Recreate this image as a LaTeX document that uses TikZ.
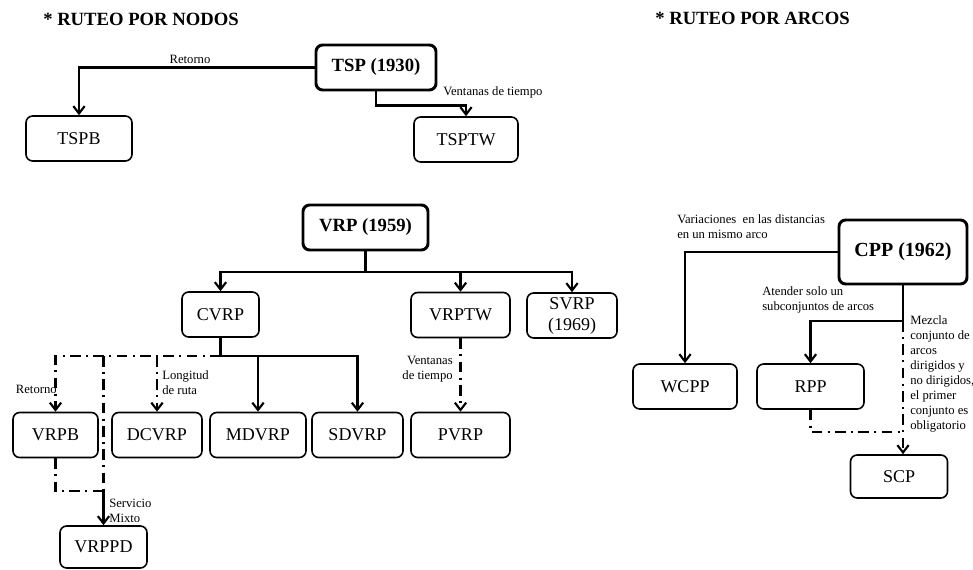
\documentclass[tikz,border=0pt]{standalone}
\usepackage{fontspec}
\setmainfont{Liberation Serif}
\usetikzlibrary{arrows.meta}

\begin{document}
\begin{tikzpicture}[x=0.75pt,y=-0.75pt,
  box/.style={draw, line width=1.2pt, rounded corners=5pt, inner sep=0pt, minimum height=33.75pt, align=center, font=\fontsize{13.5}{15.75}\selectfont},
  mainbox/.style={box, line width=2.2pt, font=\fontsize{14}{16}\selectfont\bfseries},
  arr/.style={line width=1.6pt, -{Straight Barb[length=5.5pt,width=8.5pt,line width=1.6pt]}},
  dd/.style={line width=1.6pt, dash pattern=on 8pt off 4pt on 1.5pt off 4pt},
  lbl/.style={inner sep=0pt, align=left, font=\fontsize{9.5}{11.25}\selectfont},
  title/.style={inner sep=0pt, anchor=west, font=\fontsize{14}{16}\selectfont\bfseries}]
\useasboundingbox (0,0) rectangle (973,570);

\node[title] (tnodos) at (43,19) {* RUTEO POR NODOS};
\node[title] (tarcos) at (655,18) {* RUTEO POR ARCOS};

\node[mainbox, minimum width=90pt] (tsp) at (376,67.5) {TSP (1930)};
\node[box, minimum width=79.5pt] (tspb) at (79,138.5) {TSPB};
\node[box, minimum width=78pt] (tsptw) at (466,139.5) {TSPTW};

\draw[arr] (tsp.west) -| (tspb.north);
\draw[arr] (tsp.south) -- ++(0,14) -| (tsptw.north);
\node[lbl] (lretorno) at (190,59) {Retorno};
\node[lbl, anchor=west] (lventanas) at (443,92) {Ventanas de tiempo};

\node[mainbox, minimum width=93.75pt] (vrp) at (365.5,227.5) {VRP (1959)};
\node[box, minimum width=57.75pt] (cvrp) at (220.5,314.5) {CVRP};
\node[box, minimum width=74.25pt] (vrptw) at (460.5,315) {VRPTW};
\node[box, minimum width=67.5pt] (svrp) at (572,315.5) {SVRP\\(1969)};
\node[box, minimum width=63.75pt] (vrpb) at (55.5,435) {VRPB};
\node[box, minimum width=67.5pt] (dcvrp) at (157,435) {DCVRP};
\node[box, minimum width=72pt] (mdvrp) at (258,435) {MDVRP};
\node[box, minimum width=68.25pt] (sdvrp) at (357.5,435) {SDVRP};
\node[box, minimum width=74.25pt] (pvrp) at (460.5,435) {PVRP};
\node[box, minimum width=65.25pt, minimum height=31.5pt] (vrppd) at (103.5,547) {VRPPD};

\coordinate (jv) at (365.5,272);
\coordinate (jc) at (220.5,356);
\coordinate (jm) at (103.5,491);
\draw[line width=1.6pt] (vrp.south) -- (jv);
\draw[arr] (jv) -| (cvrp.north);
\draw[arr] (jv) -| (vrptw.north);
\draw[arr] (jv) -| (svrp.north);
\draw[line width=1.6pt] (cvrp.south) -- (jc);
\draw[arr] (jc) -| (mdvrp.north);
\draw[arr] (jc) -| (sdvrp.north);
\draw[dd, arr] (jc) -| (vrpb.north);
\draw[dd, arr] (jc -| dcvrp.north) -- (dcvrp.north);
\draw[dd] (jc -| jm) -- (jm);
\draw[dd] (vrpb.south) |- (jm);
\draw[arr] (jm) -- (vrppd.north);
\draw[dd, arr] (vrptw.south) -- (pvrp.north);

\node[lbl, anchor=east] (lretorno2) at (57,389) {Retorno};
\node[lbl, anchor=west] (llongitud) at (162,383) {Longitud\\de ruta};
\node[lbl, anchor=west] (lservicio) at (109,511) {Servicio\\Mixto};
\node[lbl, anchor=east, align=right] (lventanas2) at (453,369.5) {Ventanas\\de tiempo};

\node[mainbox, minimum width=96pt, minimum height=48pt, font=\fontsize{15}{17}\selectfont\bfseries] (cpp) at (903,252) {CPP (1962)};
\node[box, minimum width=78pt] (wcpp) at (685,386.5) {WCPP};
\node[box, minimum width=80.25pt] (rpp) at (810.5,386.5) {RPP};
\node[box, minimum width=72.75pt, minimum height=32.25pt] (scp) at (899,476.5) {SCP};

\coordinate (jp) at (903,321);
\coordinate (jq) at (903,432);
\draw[arr] (cpp.west) -| (wcpp.north);
\draw[line width=1.6pt] (cpp.south) -- (jp);
\draw[arr] (jp) -| (rpp.north);
\draw[dd, arr] (jp) -- (jp |- scp.north);
\draw[dd] (rpp.south) |- (jq);

\node[lbl, anchor=west] (lvariaciones) at (677,227) {Variaciones \ en las distancias\\en un mismo arco};
\node[lbl, anchor=west] (latender) at (762,300) {Atender solo un\\subconjuntos de arcos};
\node[lbl, anchor=west] (lmezcla) at (910,373.5) {Mezcla\\conjunto de\\arcos\\dirigidos y\\no dirigidos,\\el primer\\conjunto es\\obligatorio};
\end{tikzpicture}
\end{document}
